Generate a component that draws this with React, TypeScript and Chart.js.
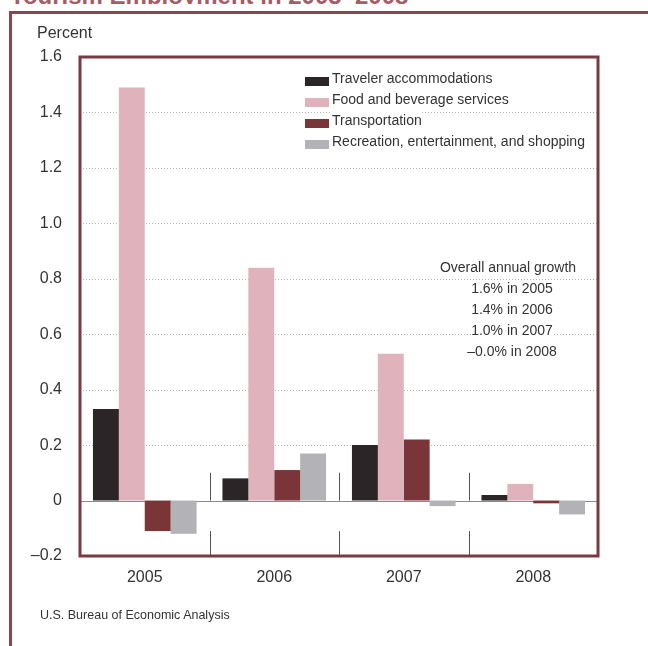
import React, { useEffect, useRef } from "react";
import { Chart, registerables } from "chart.js";

Chart.register(...registerables);

const categories = ["2005", "2006", "2007", "2008"];
const travelerAccommodations = [0.33, 0.08, 0.2, 0.02];
const foodAndBeverage = [1.49, 0.84, 0.53, 0.06];
const transportation = [-0.11, 0.11, 0.22, -0.01];
const recreation = [-0.12, 0.17, -0.02, -0.05];
const seriesLabels = [
  "Traveler accommodations",
  "Food and beverage services",
  "Transportation",
  "Recreation, entertainment, and shopping",
];
const seriesColors = ["#2b2527", "#e0b2bc", "#7a3539", "#b3b2b6"];
const yTickValues = [-0.2, 0, 0.2, 0.4, 0.6, 0.8, 1.0, 1.2, 1.4, 1.6];
const growthTitle = "Overall annual growth";
const growthNotes = ["1.6% in 2005", "1.4% in 2006", "1.0% in 2007", "\u20130.0% in 2008"];

const FONT = "'Liberation Sans', Arial, Helvetica, sans-serif";
const FRAME = "#8a4650";
const PLOT_BORDER = "#7b3a42";
const TEXT = "#333333";

const decorPlugin = {
  id: "decor",
  beforeDatasetsDraw(chart: any) {
    const { ctx, chartArea } = chart;
    const y = chart.scales.y;
    const x = chart.scales.x;
    ctx.save();
    ctx.strokeStyle = "#b5b5b5";
    ctx.lineWidth = 1;
    ctx.setLineDash([1, 2]);
    yTickValues.forEach((v) => {
      if (v === 0 || v === -0.2 || v === 1.6) return;
      const py = Math.round(y.getPixelForValue(v)) + 0.5;
      ctx.beginPath();
      ctx.moveTo(chartArea.left, py);
      ctx.lineTo(chartArea.right, py);
      ctx.stroke();
    });
    ctx.setLineDash([]);
    const zy = Math.round(y.getPixelForValue(0)) + 0.5;
    ctx.strokeStyle = "#8a8a8a";
    ctx.beginPath();
    ctx.moveTo(chartArea.left, zy);
    ctx.lineTo(chartArea.right, zy);
    ctx.stroke();
    ctx.strokeStyle = "#555555";
    for (let i = 0; i < categories.length - 1; i++) {
      const px = Math.round((x.getPixelForValue(i) + x.getPixelForValue(i + 1)) / 2) + 0.5;
      ctx.beginPath();
      ctx.moveTo(px, y.getPixelForValue(0.1));
      ctx.lineTo(px, y.getPixelForValue(0));
      ctx.moveTo(px, y.getPixelForValue(-0.11));
      ctx.lineTo(px, chartArea.bottom);
      ctx.stroke();
    }
    ctx.restore();
  },
  afterDraw(chart: any) {
    const { ctx, chartArea } = chart;
    ctx.save();
    ctx.strokeStyle = PLOT_BORDER;
    ctx.lineWidth = 3;
    ctx.strokeRect(chartArea.left, chartArea.top, chartArea.right - chartArea.left, chartArea.bottom - chartArea.top);
    ctx.restore();
  },
};

function formatTick(v: number) {
  const r = Math.round(v * 10) / 10;
  if (r === 0) return "0";
  if (r < 0) return "\u2013" + Math.abs(r).toFixed(1);
  return r.toFixed(1);
}

export default function App() {
  const canvasRef = useRef<HTMLCanvasElement | null>(null);

  useEffect(() => {
    if (!canvasRef.current) return;
    const seriesData = [travelerAccommodations, foodAndBeverage, transportation, recreation];
    const chart = new Chart(canvasRef.current, {
      type: "bar",
      data: {
        labels: categories,
        datasets: seriesData.map((d, i) => ({
          label: seriesLabels[i],
          data: d,
          backgroundColor: seriesColors[i],
          borderWidth: 0,
          categoryPercentage: 0.8,
          barPercentage: 1.0,
        })),
      },
      options: {
        animation: false,
        responsive: false,
        maintainAspectRatio: false,
        layout: { padding: { top: 57, right: 50, left: 0, bottom: 0 } },
        plugins: { legend: { display: false }, tooltip: { enabled: false } },
        scales: {
          x: {
            grid: { display: false },
            border: { display: false },
            ticks: { color: TEXT, font: { family: FONT, size: 16 }, padding: 4 },
            afterFit: (s: any) => {
              s.height = 90;
            },
          },
          y: {
            min: -0.2,
            max: 1.6,
            afterBuildTicks: (s: any) => {
              s.ticks = yTickValues.map((v) => ({ value: v }));
            },
            grid: { display: false, drawTicks: false },
            border: { display: false },
            ticks: {
              color: TEXT,
              font: { family: FONT, size: 16 },
              padding: 18,
              callback: (v: any) => formatTick(Number(v)),
            },
            afterFit: (s: any) => {
              s.width = 80;
            },
          },
        },
      },
      plugins: [decorPlugin],
    });
    return () => chart.destroy();
  }, []);

  return (
    <div
      style={{
        position: "absolute",
        left: 0,
        top: 0,
        width: 648,
        height: 646,
        overflow: "hidden",
        background: "#ffffff",
        fontFamily: FONT,
        color: TEXT,
      }}
    >
      <div style={{ position: "absolute", left: 10, top: 0, width: 420, height: 4, overflow: "hidden" }}>
        <div
          style={{
            position: "absolute",
            left: 0,
            bottom: -4,
            fontSize: 24,
            fontWeight: "bold",
            color: "#a85a66",
            whiteSpace: "nowrap",
            lineHeight: "24px",
          }}
        >
          Tourism Employment in 2005–2008
        </div>
      </div>
      <div style={{ position: "absolute", left: 9, top: 11, width: 639, height: 3, background: FRAME }} />
      <div style={{ position: "absolute", left: 9, top: 11, width: 3, height: 635, background: FRAME }} />
      <canvas ref={canvasRef} width={648} height={646} style={{ position: "absolute", left: 0, top: 0 }} />
      <div style={{ position: "absolute", left: 37, top: 23, fontSize: 16, lineHeight: "20px" }}>Percent</div>
      <div style={{ position: "absolute", left: 305, top: 68, fontSize: 14 }}>
        {seriesLabels.map((l, i) => (
          <div key={l} style={{ display: "flex", alignItems: "center", height: 21, lineHeight: "21px" }}>
            <span
              style={{
                display: "inline-block",
                width: 24,
                height: 9,
                marginTop: 5,
                background: seriesColors[i],
                marginRight: 3,
              }}
            />
            <span style={{ background: "#fff", whiteSpace: "nowrap" }}>{l}</span>
          </div>
        ))}
      </div>
      <div style={{ position: "absolute", left: 418, top: 257, width: 180, fontSize: 14, textAlign: "center" }}>
        <div style={{ height: 21, lineHeight: "21px" }}>
          <span style={{ background: "#fff" }}>{growthTitle}</span>
        </div>
        {growthNotes.map((n) => (
          <div key={n} style={{ height: 21, lineHeight: "21px", paddingLeft: 8 }}>
            <span style={{ background: "#fff" }}>{n}</span>
          </div>
        ))}
      </div>
      <div style={{ position: "absolute", left: 40, top: 607, fontSize: 12.5, lineHeight: "16px" }}>
        U.S. Bureau of Economic Analysis
      </div>
    </div>
  );
}
